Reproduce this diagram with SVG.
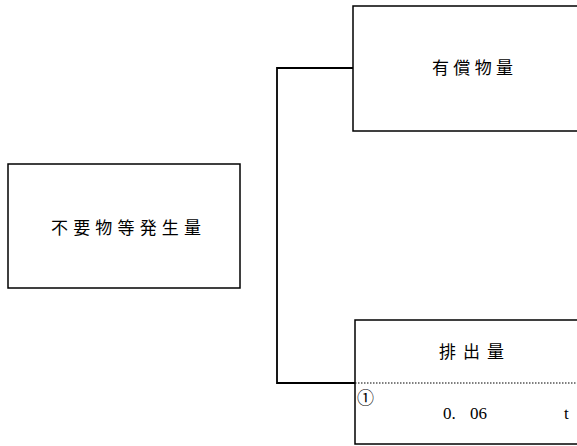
<svg xmlns="http://www.w3.org/2000/svg" width="577" height="446" viewBox="0 0 577 446">
<style>
.box{fill:#fff;stroke:#000;stroke-width:1.5}
.conn{fill:none;stroke:#000;stroke-width:1.8}
.t{font-family:"Liberation Serif","Noto Sans CJK JP",serif;font-size:17px;fill:#000}
</style>
<rect width="577" height="446" fill="#fff"/>
<g id="connectors">
<polyline class="conn" points="353,68 277,68 277,383 355,383"/>
</g>
<g id="node-generation">
<rect class="box" x="8" y="164" width="232" height="124"/>
<text class="t" x="51" y="234" textLength="150" lengthAdjust="spacing">不要物等発生量</text>
</g>
<g id="node-valuables">
<rect class="box" x="353" y="6" width="230" height="125"/>
<text class="t" x="432" y="74" textLength="81" lengthAdjust="spacing">有償物量</text>
</g>
<g id="node-emission">
<rect class="box" x="355" y="320" width="228" height="124"/>
<line x1="355" y1="383" x2="577" y2="383" stroke="#000" stroke-width="1.2" stroke-dasharray="1.5,1.5"/>
<text class="t" x="439" y="358" textLength="65" lengthAdjust="spacing">排出量</text>
<text class="t" x="357" y="404" font-size="19">①</text>
<text class="t" x="443" y="419" font-size="19">0.<tspan x="470">06</tspan></text>
<text class="t" x="564" y="419" font-size="19">t</text>
</g>
</svg>
